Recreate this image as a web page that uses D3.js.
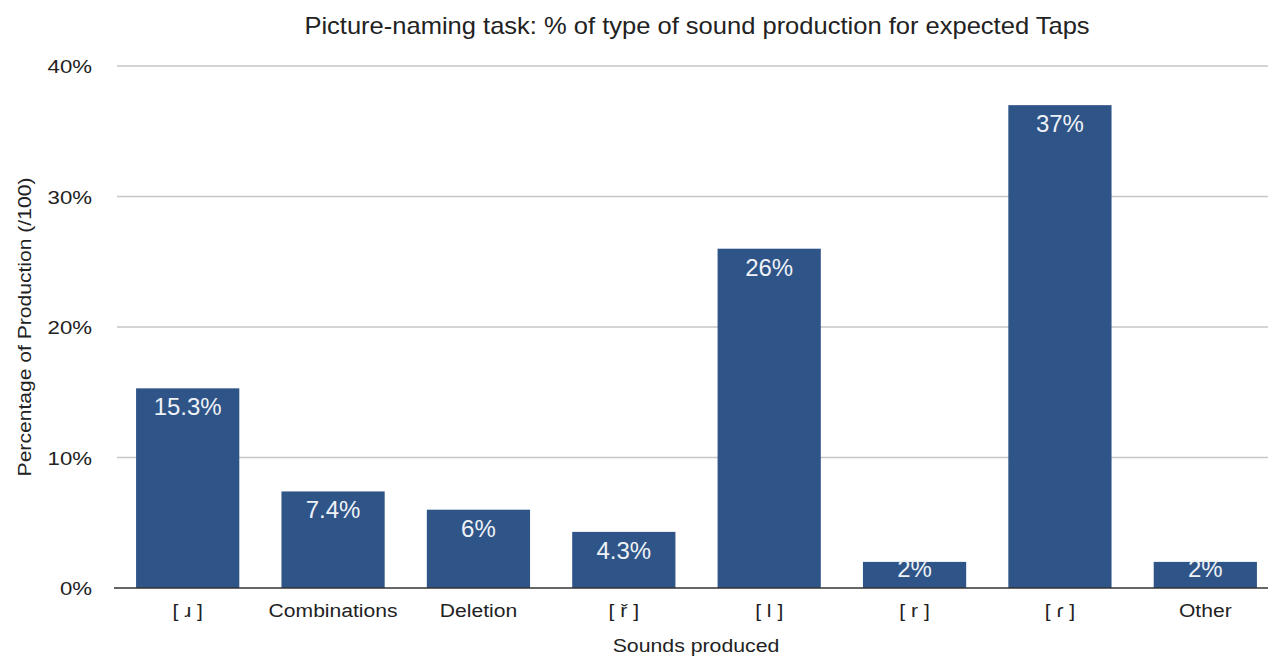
<!DOCTYPE html>
<html><head><meta charset="utf-8">
<script src="https://cdn.jsdelivr.net/npm/d3@7/dist/d3.min.js"></script>
<style>body{margin:0;background:#fff;} text{font-family:"Liberation Sans",Arial,Helvetica,sans-serif;}</style>
</head><body>
<svg id="c" width="1268" height="656"></svg>
<script>
const categories = ["[ \u0279 ]", "Combinations", "Deletion", "[ \u0159 ]", "[ l ]", "[ r ]", "[ \u027E ]", "Other"];
const values = [15.3, 7.4, 6, 4.3, 26, 2, 37, 2];
const valueLabels = ["15.3%", "7.4%", "6%", "4.3%", "26%", "2%", "37%", "2%"];
const yTicks = [0, 10, 20, 30, 40];

(function () {
const svg = d3.select("#c");
const pLeft = 115, pRight = 1278, pTop = 66, pBottom = 588;
const x = d3.scaleBand().domain(categories).range([pLeft, pRight]).paddingInner(0.29).paddingOuter(0.145);
const y = d3.scaleLinear().domain([0, 40]).range([pBottom, pTop]);
const FF = "Liberation Sans, Arial, sans-serif";

// gridlines
svg.append("g").selectAll("line").data(yTicks.filter(d => d > 0)).join("line")
  .attr("x1", 117).attr("x2", 1268)
  .attr("y1", d => y(d)).attr("y2", d => y(d))
  .attr("stroke", "#c6c6c6").attr("stroke-width", 1.5);

// y tick labels
const yAxis = d3.axisLeft(y).tickValues(yTicks).tickFormat(d => d + "%").tickSize(0).tickPadding(0);
const ga = svg.append("g").attr("transform", "translate(92,0)").call(yAxis);
ga.select(".domain").remove();
ga.selectAll("text").attr("font-size", 19).attr("fill", "#222").attr("font-family", FF)
  .attr("dy", "0.36em").attr("transform", "scale(1.17,1)");

// bars
svg.append("g").selectAll("rect").data(values).join("rect")
  .attr("x", (d, i) => x(categories[i]))
  .attr("width", x.bandwidth())
  .attr("y", d => y(d))
  .attr("height", d => y(0) - y(d))
  .attr("fill", "#2f5487");

// value labels
svg.append("g").selectAll("text").data(values).join("text")
  .attr("x", (d, i) => x(categories[i]) + x.bandwidth() / 2)
  .attr("y", d => Math.min(y(d) + 27, y(0) - 11))
  .attr("text-anchor", "middle")
  .attr("font-size", 24)
  .attr("fill", "#eef2f7")
  .text((d, i) => valueLabels[i]);

// baseline
svg.append("line").attr("x1", 114).attr("x2", 1268).attr("y1", y(0)).attr("y2", y(0))
  .attr("stroke", "#333").attr("stroke-width", 1.5);

// x axis labels
const xAxis = d3.axisBottom(x).tickSize(0).tickPadding(0);
const gx = svg.append("g").attr("transform", `translate(0,${y(0) + 29})`).call(xAxis);
gx.select(".domain").remove();
gx.selectAll("text").attr("font-size", 19).attr("fill", "#222").attr("dy", 0).attr("font-family", FF)
  .attr("transform", "scale(1.11,1)");

// titles
svg.append("text").attr("transform", "translate(697,34) scale(1.11,1)").attr("text-anchor", "middle")
  .attr("font-size", 23).attr("fill", "#222")
  .text("Picture-naming task: % of type of sound production for expected Taps");
svg.append("text").attr("transform", "translate(696,652) scale(1.12,1)").attr("text-anchor", "middle")
  .attr("font-size", 19).attr("fill", "#222").text("Sounds produced");
svg.append("text").attr("transform", "translate(31,327) rotate(-90) scale(1.11,1)").attr("text-anchor", "middle")
  .attr("font-size", 19).attr("fill", "#222").text("Percentage of Production (/100)");
})();
</script>
</body></html>
